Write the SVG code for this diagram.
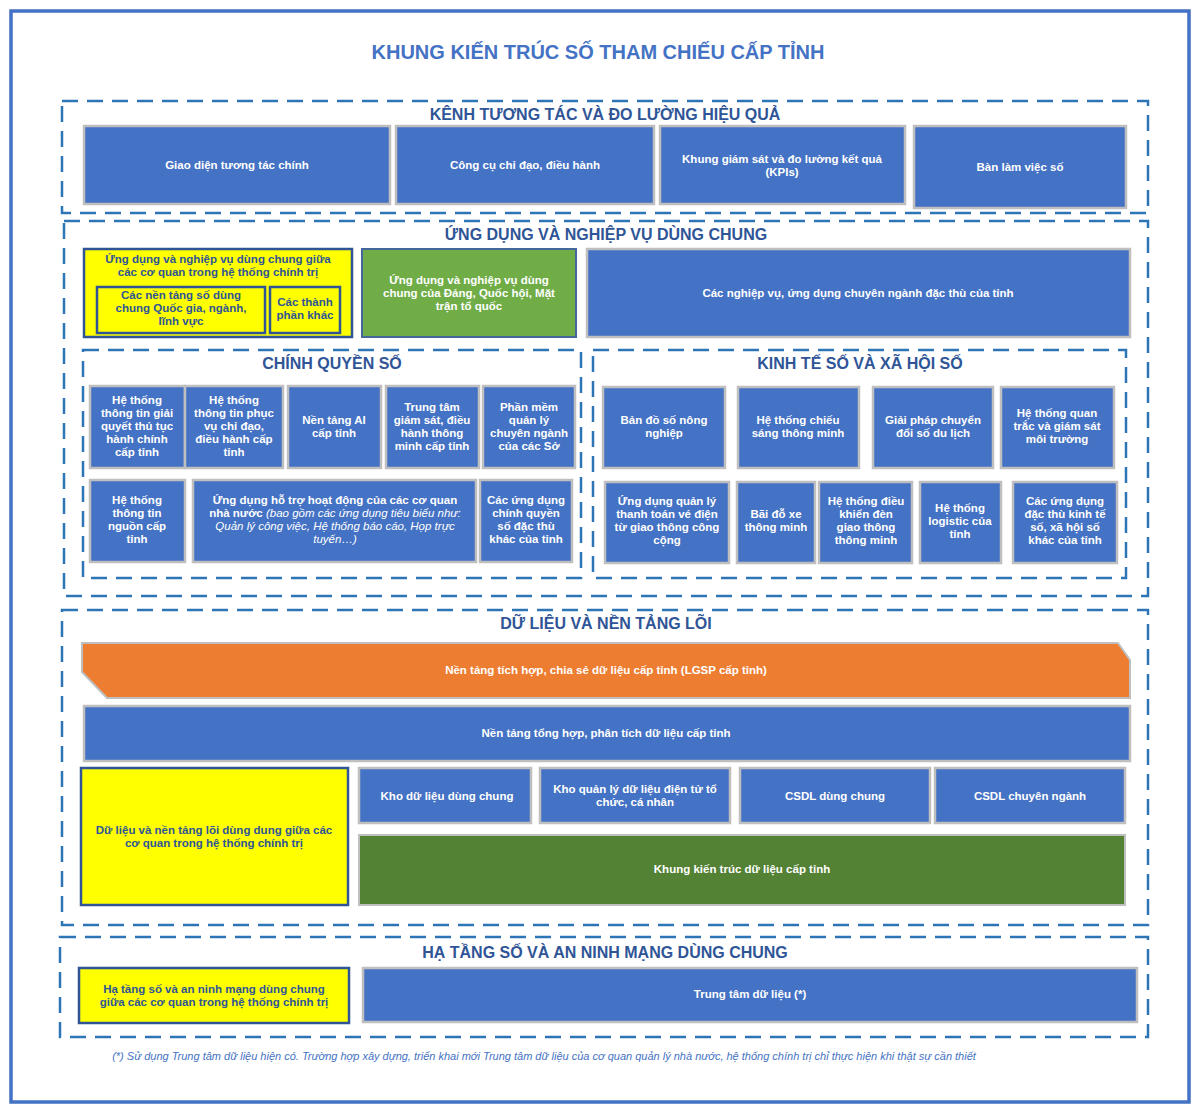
<svg xmlns="http://www.w3.org/2000/svg" width="1200" height="1113" viewBox="0 0 1200 1113">
<style>
text{font-family:"Liberation Sans",Arial,sans-serif;text-anchor:middle}
.b{fill:#4472C4;stroke:#BFBFBF;stroke-width:2.5}
.y{fill:#FFFF00;stroke:#2F5597;stroke-width:2.5}
.g{fill:#70AD47;stroke:#44689E;stroke-width:2}
.dg{fill:#548235;stroke:#BFBFBF;stroke-width:2}
.d{fill:none;stroke:#2E75B6;stroke-width:2.5;stroke-dasharray:16 9}
.t{fill:#fff;font-size:11.5px;font-weight:bold}
.ty{fill:#2F5597;font-size:11.5px;font-weight:bold}
.h{fill:#2F5597;font-size:16px;font-weight:bold}
.it{font-style:italic;font-weight:normal}
</style>
<rect width="1200" height="1113" fill="#fff"/>
<rect x="11" y="11" width="1178" height="1091" fill="none" stroke="#4472C4" stroke-width="3.5"/>
<text x="598" y="59" style="fill:#4472C4;font-size:20px;font-weight:bold">KHUNG KIẾN TRÚC SỐ THAM CHIẾU CẤP TỈNH</text>
<g id="sections">
<rect class="d" x="62" y="101" width="1086" height="112"/>
<text class="h" x="605" y="120">KÊNH TƯƠNG TÁC VÀ ĐO LƯỜNG HIỆU QUẢ</text>
<rect class="d" x="64" y="221" width="1084" height="375"/>
<text class="h" x="606" y="240">ỨNG DỤNG VÀ NGHIỆP VỤ DÙNG CHUNG</text>
<rect class="d" x="83" y="350" width="498" height="228"/>
<text class="h" x="332" y="369">CHÍNH QUYỀN SỐ</text>
<rect class="d" x="593" y="350" width="533" height="228"/>
<text class="h" x="860" y="369">KINH TẾ SỐ VÀ XÃ HỘI SỐ</text>
<rect class="d" x="62" y="610" width="1086" height="315"/>
<text class="h" x="606" y="629">DỮ LIỆU VÀ NỀN TẢNG LÕI</text>
<rect class="d" x="60" y="937" width="1088" height="100"/>
<text class="h" x="605" y="958">HẠ TẦNG SỐ VÀ AN NINH MẠNG DÙNG CHUNG</text>
</g>
<g id="n1"><rect class="b" x="84" y="126" width="306" height="78"/><text class="t" x="237" y="169">Giao diện tương tác chính</text></g>
<g id="n2"><rect class="b" x="396" y="126" width="258" height="78"/><text class="t" x="525" y="169">Công cụ chỉ đạo, điều hành</text></g>
<g id="n3"><rect class="b" x="660" y="126" width="245" height="78"/><text class="t" x="782" y="163">Khung giám sát và đo lường kết quả</text><text class="t" x="782" y="176">(KPIs)</text></g>
<g id="n4"><rect class="b" x="914" y="126" width="212" height="82"/><text class="t" x="1020" y="171">Bàn làm việc số</text></g>
<g id="n5"><rect class="y" x="84" y="249" width="268" height="88"/><text class="ty" x="218" y="263">Ứng dụng và nghiệp vụ dùng chung giữa</text><text class="ty" x="218" y="276">các cơ quan trong hệ thống chính trị</text></g>
<g id="n6"><rect class="y" x="97" y="287" width="168" height="46"/><text class="ty" x="181" y="299">Các nền tảng số dùng</text><text class="ty" x="181" y="312">chung Quốc gia, ngành,</text><text class="ty" x="181" y="325">lĩnh vực</text></g>
<g id="n7"><rect class="y" x="270" y="287" width="70" height="46"/><text class="ty" x="305" y="306">Các thành</text><text class="ty" x="305" y="319">phần khác</text></g>
<g id="n8"><rect class="g" x="362" y="249" width="214" height="88"/><text class="t" x="469" y="284">Ứng dụng và nghiệp vụ dùng</text><text class="t" x="469" y="297">chung của Đảng, Quốc hội, Mặt</text><text class="t" x="469" y="310">trận tổ quốc</text></g>
<g id="n9"><rect class="b" x="587" y="249" width="543" height="88"/><text class="t" x="858" y="297">Các nghiệp vụ, ứng dụng chuyên ngành đặc thù của tỉnh</text></g>
<g id="c1"><rect class="b" x="90" y="386" width="95" height="82"/><text class="t" x="137" y="404">Hệ thống</text><text class="t" x="137" y="417">thông tin giải</text><text class="t" x="137" y="430">quyết thủ tục</text><text class="t" x="137" y="443">hành chính</text><text class="t" x="137" y="456">cấp tỉnh</text></g>
<g id="c2"><rect class="b" x="185" y="386" width="98" height="82"/><text class="t" x="234" y="404">Hệ thống</text><text class="t" x="234" y="417">thông tin phục</text><text class="t" x="234" y="430">vụ chỉ đạo,</text><text class="t" x="234" y="443">điều hành cấp</text><text class="t" x="234" y="456">tỉnh</text></g>
<g id="c3"><rect class="b" x="288" y="386" width="93" height="82"/><text class="t" x="334" y="424">Nền tảng AI</text><text class="t" x="334" y="437">cấp tỉnh</text></g>
<g id="c4"><rect class="b" x="386" y="386" width="93" height="82"/><text class="t" x="432" y="411">Trung tâm</text><text class="t" x="432" y="424">giám sát, điều</text><text class="t" x="432" y="437">hành thông</text><text class="t" x="432" y="450">minh cấp tỉnh</text></g>
<g id="c5"><rect class="b" x="483" y="386" width="92" height="82"/><text class="t" x="529" y="411">Phần mềm</text><text class="t" x="529" y="424">quản lý</text><text class="t" x="529" y="437">chuyên ngành</text><text class="t" x="529" y="450">của các Sở</text></g>
<g id="c6"><rect class="b" x="90" y="480" width="95" height="82"/><text class="t" x="137" y="504">Hệ thống</text><text class="t" x="137" y="517">thông tin</text><text class="t" x="137" y="530">nguồn cấp</text><text class="t" x="137" y="543">tỉnh</text></g>
<g id="c7"><rect class="b" x="193" y="480" width="283" height="82"/><text class="t" x="335" y="504">Ứng dụng hỗ trợ hoạt động của các cơ quan</text><text class="t" x="335" y="517">nhà nước <tspan class="it">(bao gồm các ứng dụng tiêu biểu như:</tspan></text><text class="t it" x="335" y="530">Quản lý công việc, Hệ thống báo cáo, Họp trực</text><text class="t it" x="335" y="543">tuyến…)</text></g>
<g id="c8"><rect class="b" x="480" y="480" width="92" height="82"/><text class="t" x="526" y="504">Các ứng dụng</text><text class="t" x="526" y="517">chính quyền</text><text class="t" x="526" y="530">số đặc thù</text><text class="t" x="526" y="543">khác của tỉnh</text></g>
<g id="k1"><rect class="b" x="603" y="387" width="122" height="81"/><text class="t" x="664" y="424">Bản đồ số nông</text><text class="t" x="664" y="437">nghiệp</text></g>
<g id="k2"><rect class="b" x="738" y="387" width="121" height="81"/><text class="t" x="798" y="424">Hệ thống chiếu</text><text class="t" x="798" y="437">sáng thông minh</text></g>
<g id="k3"><rect class="b" x="873" y="387" width="120" height="81"/><text class="t" x="933" y="424">Giải pháp chuyển</text><text class="t" x="933" y="437">đổi số du lịch</text></g>
<g id="k4"><rect class="b" x="1001" y="387" width="113" height="81"/><text class="t" x="1057" y="417">Hệ thống quan</text><text class="t" x="1057" y="430">trắc và giám sát</text><text class="t" x="1057" y="443">môi trường</text></g>
<g id="k5"><rect class="b" x="605" y="482" width="124" height="81"/><text class="t" x="667" y="505">Ứng dụng quản lý</text><text class="t" x="667" y="518">thanh toán vé điện</text><text class="t" x="667" y="531">từ giao thông công</text><text class="t" x="667" y="544">cộng</text></g>
<g id="k6"><rect class="b" x="737" y="482" width="78" height="81"/><text class="t" x="776" y="518">Bãi đỗ xe</text><text class="t" x="776" y="531">thông minh</text></g>
<g id="k7"><rect class="b" x="819" y="482" width="93" height="81"/><text class="t" x="866" y="505">Hệ thống điều</text><text class="t" x="866" y="518">khiển đèn</text><text class="t" x="866" y="531">giao thông</text><text class="t" x="866" y="544">thông minh</text></g>
<g id="k8"><rect class="b" x="920" y="482" width="81" height="81"/><text class="t" x="960" y="512">Hệ thống</text><text class="t" x="960" y="525">logistic của</text><text class="t" x="960" y="538">tỉnh</text></g>
<g id="k9"><rect class="b" x="1013" y="482" width="104" height="81"/><text class="t" x="1065" y="505">Các ứng dụng</text><text class="t" x="1065" y="518">đặc thù kinh tế</text><text class="t" x="1065" y="531">số, xã hội số</text><text class="t" x="1065" y="544">khác của tỉnh</text></g>
<g id="d1"><polygon points="82,643 1118,643 1130,660 1130,698 107,698 82,672" fill="#ED7D31" stroke="#BFBFBF" stroke-width="2"/><text class="t" x="606" y="674">Nền tảng tích hợp, chia sẻ dữ liệu cấp tỉnh (LGSP cấp tỉnh)</text></g>
<g id="d2"><rect class="b" x="84" y="706" width="1046" height="55"/><text class="t" x="606" y="737">Nền tảng tổng hợp, phân tích dữ liệu cấp tỉnh</text></g>
<g id="d3"><rect class="y" x="81" y="768" width="267" height="137"/><text class="ty" x="214" y="834">Dữ liệu và nền tảng lõi dùng dung giữa các</text><text class="ty" x="214" y="847">cơ quan trong hệ thống chính trị</text></g>
<g id="d4"><rect class="b" x="359" y="768" width="172" height="55"/><text class="t" x="447" y="800">Kho dữ liệu dùng chung</text></g>
<g id="d5"><rect class="b" x="540" y="768" width="190" height="55"/><text class="t" x="635" y="793">Kho quản lý dữ liệu điện tử tổ</text><text class="t" x="635" y="806">chức, cá nhân</text></g>
<g id="d6"><rect class="b" x="740" y="768" width="190" height="55"/><text class="t" x="835" y="800">CSDL dùng chung</text></g>
<g id="d7"><rect class="b" x="935" y="768" width="190" height="55"/><text class="t" x="1030" y="800">CSDL chuyên ngành</text></g>
<g id="d8"><rect class="dg" x="359" y="835" width="766" height="70"/><text class="t" x="742" y="873">Khung kiến trúc dữ liệu cấp tỉnh</text></g>
<g id="h1"><rect class="y" x="79" y="968" width="270" height="55"/><text class="ty" x="214" y="993">Hạ tầng số và an ninh mạng dùng chung</text><text class="ty" x="214" y="1006">giữa các cơ quan trong hệ thống chính trị</text></g>
<g id="h2"><rect class="b" x="363" y="968" width="774" height="54"/><text class="t" x="750" y="998">Trung tâm dữ liệu (*)</text></g>
<g id="connectors"></g>
<text x="544" y="1060" style="fill:#4472C4;font-size:11px;font-style:italic">(*) Sử dụng Trung tâm dữ liệu hiện có. Trường hợp xây dựng, triển khai mới Trung tâm dữ liệu của cơ quan quản lý nhà nước, hệ thống chính trị chỉ thực hiện khi thật sự cần thiết</text>
</svg>
